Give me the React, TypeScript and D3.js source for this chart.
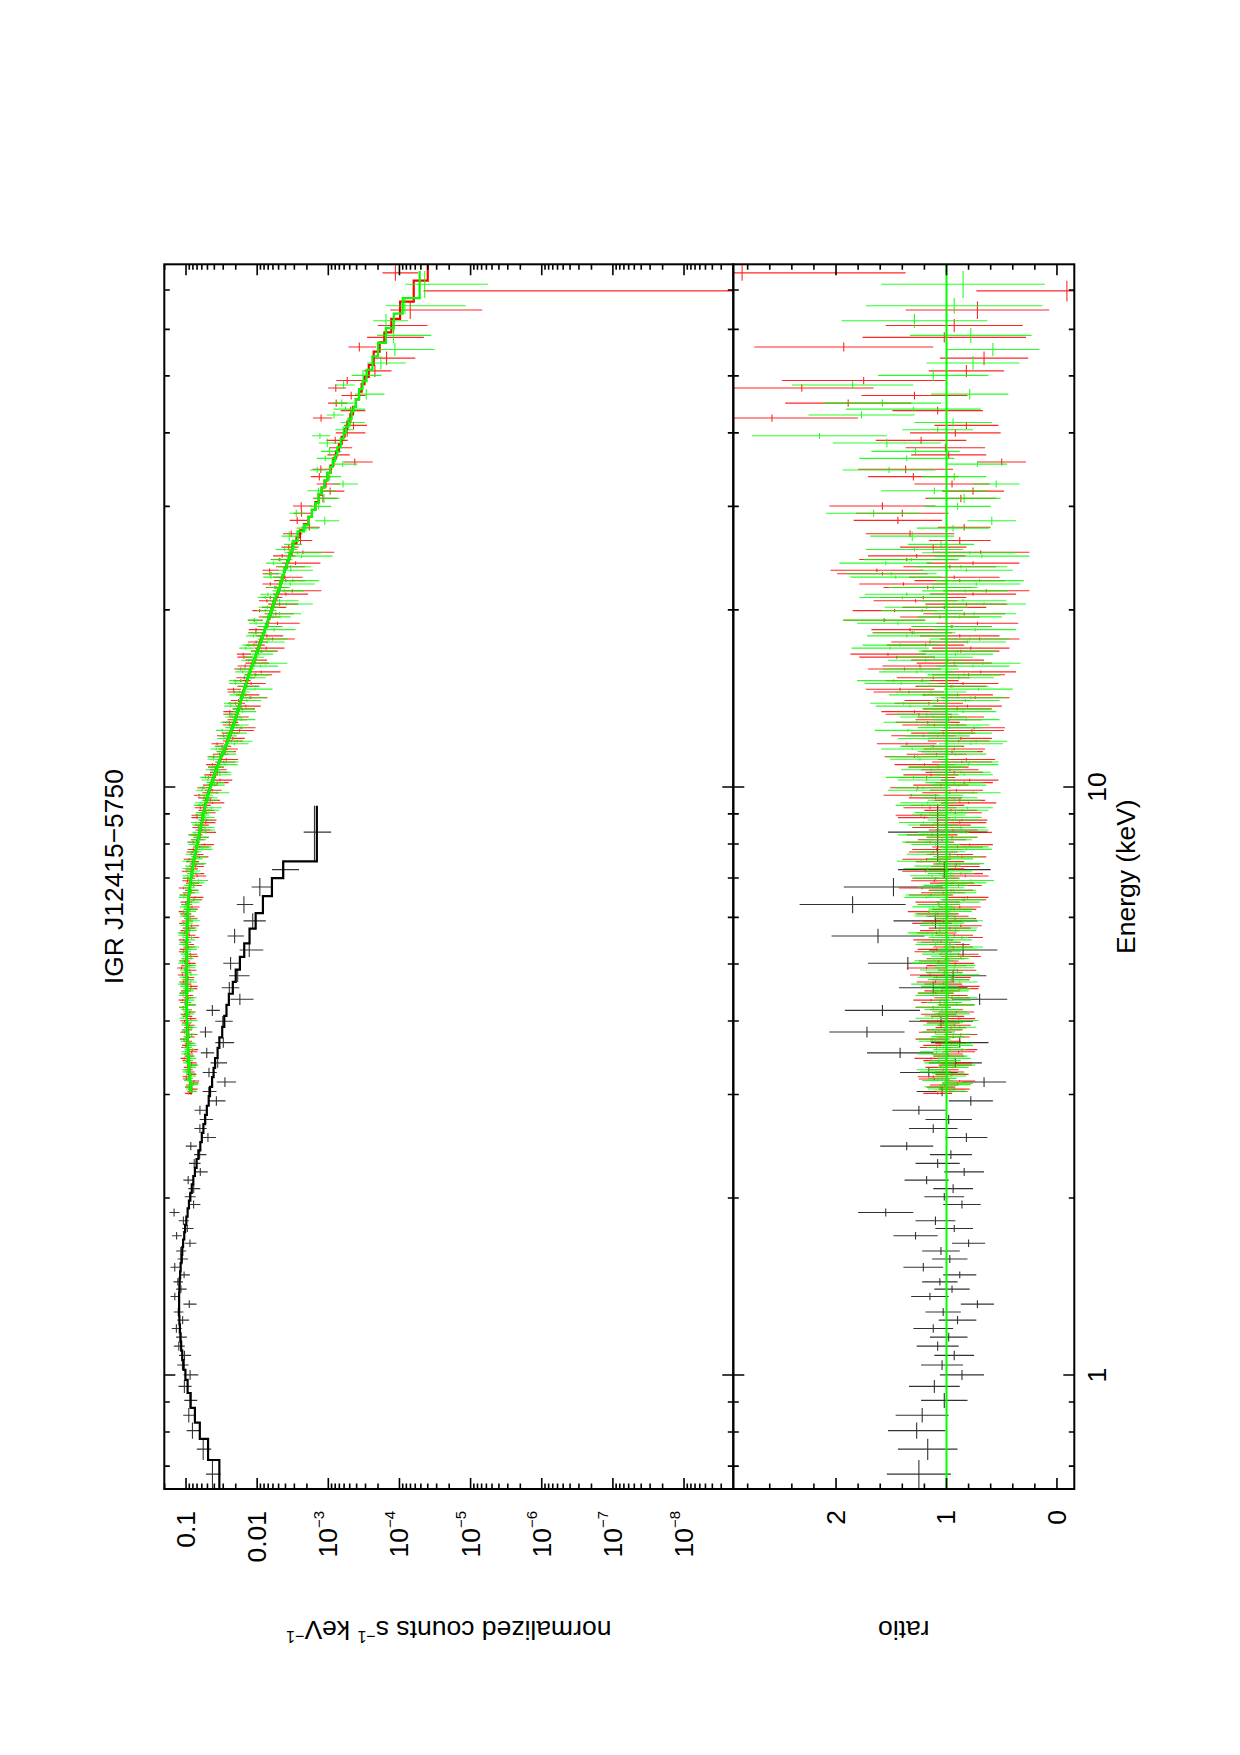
import React from 'react';
import * as d3 from 'd3';

// ---- soft X-ray spectrum (black): bin edges in keV, folded model, data/model ratio and its error
const blackEdges = [
  0.64, 0.717, 0.779, 0.83, 0.879, 0.932, 0.981, 1.02, 1.06, 1.1,
  1.14, 1.18, 1.22, 1.26, 1.3, 1.34, 1.38, 1.42, 1.46, 1.5,
  1.55, 1.6, 1.65, 1.7, 1.75, 1.8, 1.86, 1.92, 1.98, 2.04,
  2.11, 2.18, 2.25, 2.33, 2.41, 2.49, 2.58, 2.67, 2.77, 2.87,
  2.98, 3.09, 3.21, 3.33, 3.46, 3.6, 3.75, 3.91, 4.08, 4.26,
  4.45, 4.66, 4.89, 5.14, 5.42, 5.74, 6.1, 6.52, 7.0, 7.47,
  9.29,
];
const blackModel = [
  0.034, 0.049, 0.064, 0.075, 0.086, 0.095, 0.102, 0.108, 0.113, 0.117,
  0.12, 0.122, 0.124, 0.125, 0.125, 0.125, 0.124, 0.123, 0.121, 0.119,
  0.116, 0.113, 0.11, 0.106, 0.103, 0.099, 0.095, 0.091, 0.087, 0.083,
  0.079, 0.075, 0.071, 0.067, 0.063, 0.06, 0.057, 0.054, 0.051, 0.048,
  0.046, 0.043, 0.041, 0.039, 0.036, 0.034, 0.031, 0.029, 0.027, 0.025,
  0.022, 0.02, 0.0175, 0.0152, 0.0128, 0.0105, 0.0083, 0.0062, 0.0043, 0.00145,
];
const blackRatio = [
  1.25, 1.17, 1.27, 1.22, 1.02, 1.11, 0.86, 1.04, 0.93, 1.08,
  0.98, 1.12, 0.9, 1.03, 0.72, 1.15, 0.95, 1.06, 0.88, 1.21,
  0.97, 1.05, 0.8, 1.28, 0.93, 1.1, 1.55, 0.86, 1.02, 0.94,
  1.18, 0.84, 1.08, 0.96, 1.36, 0.82, 1.12, 0.98, 1.25, 0.78,
  1.04, 0.66, 1.16, 0.92, 1.42, 0.88, 1.72, 1.05, 1.58, 0.7,
  1.12, 0.94, 1.35, 0.85, 1.62, 1.1, 1.85, 1.48, 1.02, 1.08,
];
const blackErr = [
  0.29, 0.27, 0.26, 0.24, 0.21, 0.23, 0.2, 0.19, 0.18, 0.19,
  0.17, 0.18, 0.17, 0.16, 0.15, 0.17, 0.16, 0.16, 0.15, 0.18,
  0.16, 0.17, 0.15, 0.2, 0.17, 0.18, 0.25, 0.17, 0.18, 0.18,
  0.2, 0.18, 0.2, 0.19, 0.24, 0.19, 0.22, 0.21, 0.24, 0.2,
  0.23, 0.2, 0.26, 0.24, 0.3, 0.26, 0.34, 0.29, 0.34, 0.25,
  0.31, 0.3, 0.36, 0.31, 0.42, 0.38, 0.48, 0.45, 0.42, 0.45,
];

// ---- hard X-ray module A (red)
const redEdges = [
  3.0, 3.025, 3.05, 3.075, 3.1, 3.125, 3.15, 3.175, 3.2, 3.23,
  3.26, 3.29, 3.32, 3.35, 3.38, 3.41, 3.44, 3.47, 3.5, 3.53,
  3.56, 3.59, 3.62, 3.65, 3.68, 3.71, 3.74, 3.775, 3.81, 3.845,
  3.88, 3.915, 3.95, 3.985, 4.02, 4.055, 4.09, 4.125, 4.16, 4.2,
  4.24, 4.28, 4.32, 4.36, 4.4, 4.44, 4.48, 4.52, 4.56, 4.6,
  4.64, 4.68, 4.72, 4.765, 4.81, 4.855, 4.9, 4.945, 4.99, 5.035,
  5.08, 5.125, 5.17, 5.22, 5.27, 5.32, 5.37, 5.42, 5.47, 5.52,
  5.57, 5.62, 5.67, 5.725, 5.78, 5.835, 5.89, 5.945, 6.0, 6.055,
  6.11, 6.165, 6.22, 6.28, 6.34, 6.4, 6.46, 6.52, 6.58, 6.64,
  6.7, 6.765, 6.83, 6.895, 6.96, 7.025, 7.09, 7.155, 7.22, 7.29,
  7.36, 7.43, 7.5, 7.57, 7.64, 7.715, 7.79, 7.865, 7.94, 8.015,
  8.09, 8.17, 8.25, 8.33, 8.41, 8.49, 8.57, 8.655, 8.74, 8.825,
  8.91, 8.995, 9.08, 9.17, 9.26, 9.35, 9.44, 9.535, 9.63, 9.725,
  9.82, 9.92, 10.02, 10.12, 10.22, 10.325, 10.43, 10.535, 10.64, 10.75,
  10.86, 10.97, 11.08, 11.195, 11.31, 11.425, 11.54, 11.66, 11.78, 11.905,
  12.03, 12.155, 12.28, 12.41, 12.54, 12.675, 12.81, 12.945, 13.08, 13.22,
  13.36, 13.505, 13.65, 13.8, 13.95, 14.105, 14.26, 14.42, 14.58, 14.745,
  14.91, 15.08, 15.25, 15.425, 15.6, 15.78, 15.96, 16.145, 16.33, 16.525,
  16.72, 16.92, 17.12, 17.325, 17.53, 17.745, 17.96, 18.18, 18.4, 18.63,
  18.86, 19.095, 19.33, 19.575, 19.82, 20.075, 20.33, 20.595, 20.86, 21.135,
  21.41, 21.695, 21.98, 22.28, 22.58, 22.89, 23.2, 23.525, 23.85, 24.19,
  24.53, 24.89, 25.25, 25.9, 26.6, 27.3, 28.0, 28.8, 29.6, 30.5,
  31.4, 32.3, 33.2, 34.2, 35.2, 36.2, 37.2, 38.3, 39.4, 40.6,
  41.8, 43.0, 44.3, 45.6, 47.0, 48.4, 49.8, 52.2, 55.0, 57.0,
  59.3, 62.5, 66.9, 72.6, 77.1,
];
const redModel = [
  0.0858, 0.0863, 0.0868, 0.0872, 0.0874, 0.0877, 0.0879, 0.0884, 0.0887, 0.0893,
  0.0897, 0.0903, 0.0907, 0.0913, 0.0917, 0.0923, 0.0928, 0.0932, 0.0933, 0.0937,
  0.0938, 0.0942, 0.0943, 0.0947, 0.0948, 0.0952, 0.0953, 0.0957, 0.0958, 0.0962,
  0.0963, 0.0967, 0.0969, 0.097, 0.097, 0.0972, 0.0973, 0.0974, 0.0975, 0.0976,
  0.0977, 0.0977, 0.0978, 0.0979, 0.098, 0.098, 0.098, 0.098, 0.098, 0.098,
  0.098, 0.098, 0.098, 0.098, 0.098, 0.098, 0.098, 0.098, 0.098, 0.098,
  0.098, 0.098, 0.0979, 0.0977, 0.0977, 0.0975, 0.0975, 0.0973, 0.0973, 0.097,
  0.097, 0.0966, 0.0965, 0.096, 0.0959, 0.0954, 0.0953, 0.0949, 0.0949, 0.0944,
  0.0942, 0.0937, 0.0937, 0.0932, 0.0931, 0.0923, 0.092, 0.0909, 0.0906, 0.0893,
  0.0888, 0.0876, 0.087, 0.0858, 0.0851, 0.0838, 0.0831, 0.0818, 0.0811, 0.0798,
  0.0791, 0.0778, 0.0769, 0.0756, 0.0746, 0.0733, 0.0724, 0.0711, 0.0701, 0.0688,
  0.0678, 0.0665, 0.0656, 0.0643, 0.0634, 0.0621, 0.0613, 0.0601, 0.0593, 0.0583,
  0.0574, 0.0564, 0.0556, 0.0546, 0.0537, 0.0527, 0.0517, 0.0506, 0.0496, 0.0484,
  0.0471, 0.0459, 0.0446, 0.0434, 0.0422, 0.041, 0.0399, 0.0387, 0.0378, 0.0366,
  0.0355, 0.0343, 0.0332, 0.032, 0.0309, 0.0297, 0.0287, 0.0277, 0.0269, 0.0261,
  0.0253, 0.0245, 0.0238, 0.023, 0.0224, 0.0217, 0.021, 0.0204, 0.0199, 0.0193,
  0.0188, 0.0182, 0.0178, 0.0174, 0.017, 0.0166, 0.0161, 0.0157, 0.0152, 0.0148,
  0.0143, 0.0139, 0.0135, 0.0131, 0.0127, 0.0123, 0.0119, 0.0115, 0.011, 0.0106,
  0.0103, 0.0099, 0.0096, 0.0093, 0.009, 0.0087, 0.0083, 0.008, 0.0078, 0.0075,
  0.0072, 0.007, 0.0067, 0.0065, 0.0063, 0.0061, 0.0059, 0.0057, 0.0054, 0.0052,
  0.005, 0.0048, 0.0047, 0.0045, 0.0044, 0.0042, 0.0041, 0.0039, 0.0038, 0.0036,
  0.0035, 0.0033,
  0.0032, 0.0028, 0.0025, 0.0022, 0.0019, 0.0017, 0.00152, 0.00137, 0.00124, 0.00113,
  0.00103, 0.00093, 0.00085, 0.00078, 0.00071, 0.00065, 0.00059, 0.00054, 0.00049, 0.00045,
  0.00041, 0.00037, 0.00034, 0.00031, 0.00027, 0.00023, 0.00019, 0.000162, 0.00013, 0.000098,
  0.000063, 0.00004,
];
const redRatio = [
  1.08, 0.97, 0.93, 1.05, 1.02, 0.9, 0.88, 1.11, 1.12, 0.95, 0.97, 1.03, 1.05, 0.92, 0.91, 1.07, 1.14, 0.98, 0.99, 0.89,
  0.86, 1.09, 1.06, 0.96, 1.01, 1.13, 0.94, 0.87, 1.1, 1.02, 0.96, 0.93, 1.03, 1.08, 0.89, 0.99, 1.07, 0.91, 1.0, 1.12,
  0.91, 1.06, 1.14, 0.95, 0.98, 1.1, 1.04, 0.88, 0.86, 1.03, 1.1, 0.96, 0.95, 1.15, 1.02, 0.9, 1.18, 1.0, 0.92, 1.07,
  1.01, 0.87, 0.89, 1.12, 1.09, 0.94, 0.97, 1.05, 1.12, 0.86, 0.93, 1.09, 1.06, 0.97, 0.87, 1.13, 1.03, 0.92, 0.99, 1.08,
  1.16, 0.93, 0.88, 1.07, 1.08, 0.84, 0.81, 1.14, 1.03, 0.96, 1.22, 0.89, 0.95, 1.11, 1.1, 0.83, 0.87, 1.19, 1.05, 0.92,
  0.91, 1.06, 1.18, 0.86, 0.97, 1.12, 1.09, 0.9, 0.79, 1.15, 1.04, 0.95, 1.13, 0.82, 0.94, 1.08, 1.01, 0.88, 0.86, 1.2,
  1.23, 0.92, 0.96, 1.15, 1.08, 0.8, 0.88, 1.1, 1.32, 0.97, 0.91, 1.26, 1.05, 0.84, 0.79, 1.18, 1.14, 0.93, 0.97, 1.07,
  1.2, 0.86, 0.82, 1.29, 1.09, 0.95, 0.93, 1.12, 1.36, 0.89, 0.87, 1.21, 1.03, 0.77, 0.75, 1.11, 1.17, 0.98, 0.96, 1.25,
  1.29, 0.9, 0.81, 1.16, 1.08, 0.74, 0.9, 1.34, 1.42, 0.96, 0.85, 1.22, 1.12, 0.8, 0.69, 1.38, 1.24, 0.93, 0.99, 1.45,
  1.53, 0.87, 0.78, 1.19, 1.15, 0.7, 0.88, 1.31, 1.33, 0.95, 0.72, 1.56, 1.06, 0.84, 1.47, 1.02, 0.82, 1.28, 1.21, 0.76,
  0.64, 1.17, 1.39, 0.88, 0.93, 1.58, 1.63, 0.97, 0.76, 1.36, 1.27, 0.69,
  1.12, 0.88, 1.33, 0.84, 1.44, 1.4, 1.58, 0.87, 0.76, 0.95,
  1.3, 1.37, 0.5, 0.98, 1.01, 1.23, 0.92, 0.82, 2.58, 1.08,
  1.89, 1.29, 2.31, 1.75, 0.82, 0.66, 1.93, 1.02, 0.93, 0.72,
  -0.09, 2.85,
];
const redErr = [
  0.13, 0.14, 0.14, 0.13, 0.13, 0.14, 0.14, 0.14, 0.14, 0.15, 0.13, 0.14, 0.14, 0.15, 0.14, 0.14, 0.15, 0.14, 0.14, 0.15,
  0.14, 0.15, 0.15, 0.14, 0.14, 0.15, 0.15, 0.15, 0.15, 0.16, 0.14, 0.15, 0.15, 0.16, 0.15, 0.15, 0.16, 0.16, 0.15, 0.16,
  0.16, 0.17, 0.16, 0.16, 0.17, 0.16, 0.16, 0.17, 0.16, 0.17, 0.17, 0.17, 0.17, 0.18, 0.16, 0.17, 0.18, 0.18, 0.17, 0.18,
  0.17, 0.18, 0.18, 0.17, 0.17, 0.18, 0.18, 0.18, 0.18, 0.19, 0.17, 0.18, 0.18, 0.19, 0.19, 0.18, 0.18, 0.19, 0.19, 0.19,
  0.19, 0.2, 0.19, 0.19, 0.2, 0.2, 0.19, 0.2, 0.2, 0.2, 0.21, 0.21, 0.2, 0.21, 0.21, 0.21, 0.2, 0.21, 0.21, 0.22,
  0.21, 0.22, 0.22, 0.22, 0.21, 0.22, 0.22, 0.23, 0.21, 0.22, 0.22, 0.23, 0.23, 0.23, 0.22, 0.23, 0.23, 0.24, 0.23, 0.24,
  0.23, 0.24, 0.24, 0.24, 0.24, 0.25, 0.23, 0.24, 0.25, 0.25, 0.24, 0.25, 0.25, 0.26, 0.26, 0.26, 0.25, 0.26, 0.26, 0.27,
  0.27, 0.27, 0.26, 0.27, 0.27, 0.28, 0.28, 0.28, 0.27, 0.28, 0.28, 0.29, 0.29, 0.29, 0.28, 0.29, 0.29, 0.3, 0.3, 0.3,
  0.3, 0.31, 0.31, 0.31, 0.3, 0.31, 0.32, 0.32, 0.31, 0.32, 0.32, 0.33, 0.33, 0.33, 0.32, 0.33, 0.34, 0.34, 0.33, 0.34,
  0.34, 0.35, 0.35, 0.35, 0.35, 0.36, 0.36, 0.36, 0.35, 0.36, 0.37, 0.37, 0.36, 0.37, 0.38, 0.38, 0.37, 0.38, 0.39, 0.39,
  0.39, 0.4, 0.4, 0.41, 0.41, 0.41, 0.42, 0.42, 0.42, 0.43, 0.44, 0.44,
  0.3, 0.28, 0.4, 0.24, 0.4, 0.42, 0.48, 0.32, 0.28, 0.34,
  0.41, 0.43, 0.22, 0.34, 0.36, 0.41, 0.41, 0.29, 0.78, 0.41,
  0.57, 0.48, 0.65, 0.74, 0.34, 0.4, 0.81, 0.74, 0.62, 0.65,
  0.82, 1.48,
];

// ---- hard X-ray module B (green)
const greenEdges = [
  3.02, 3.05, 3.08, 3.105, 3.13, 3.155, 3.18, 3.21, 3.24, 3.265,
  3.29, 3.32, 3.35, 3.38, 3.41, 3.44, 3.47, 3.5, 3.53, 3.56,
  3.59, 3.62, 3.65, 3.68, 3.71, 3.745, 3.78, 3.815, 3.85, 3.885,
  3.92, 3.955, 3.99, 4.025, 4.06, 4.095, 4.13, 4.165, 4.2, 4.24,
  4.28, 4.32, 4.36, 4.4, 4.44, 4.48, 4.52, 4.56, 4.6, 4.64,
  4.68, 4.725, 4.77, 4.815, 4.86, 4.905, 4.95, 4.995, 5.04, 5.085,
  5.13, 5.175, 5.22, 5.27, 5.32, 5.37, 5.42, 5.47, 5.52, 5.57,
  5.62, 5.675, 5.73, 5.785, 5.84, 5.895, 5.95, 6.005, 6.06, 6.115,
  6.17, 6.225, 6.28, 6.34, 6.4, 6.46, 6.52, 6.58, 6.64, 6.705,
  6.77, 6.835, 6.9, 6.965, 7.03, 7.095, 7.16, 7.23, 7.3, 7.37,
  7.44, 7.51, 7.58, 7.65, 7.72, 7.795, 7.87, 7.945, 8.02, 8.095,
  8.17, 8.25, 8.33, 8.41, 8.49, 8.575, 8.66, 8.745, 8.83, 8.915,
  9.0, 9.085, 9.17, 9.26, 9.35, 9.445, 9.54, 9.635, 9.73, 9.825,
  9.92, 10.02, 10.12, 10.225, 10.33, 10.435, 10.54, 10.645, 10.75, 10.86,
  10.97, 11.085, 11.2, 11.315, 11.43, 11.545, 11.66, 11.78, 11.9, 12.025,
  12.15, 12.28, 12.41, 12.545, 12.68, 12.815, 12.95, 13.085, 13.22, 13.36,
  13.5, 13.65, 13.8, 13.95, 14.1, 14.26, 14.42, 14.585, 14.75, 14.915,
  15.08, 15.25, 15.42, 15.6, 15.78, 15.96, 16.14, 16.33, 16.52, 16.72,
  16.92, 17.12, 17.32, 17.53, 17.74, 17.96, 18.18, 18.405, 18.63, 18.865,
  19.1, 19.34, 19.58, 19.83, 20.08, 20.34, 20.6, 20.865, 21.13, 21.41,
  21.69, 21.985, 22.28, 22.585, 22.89, 23.205, 23.52, 23.855, 24.19, 24.52,
  24.85, 25.175, 25.5, 26.2, 27.2, 27.9, 28.8, 29.6, 30.4, 31.5,
  32.3, 33.2, 34.2, 35.0, 35.8, 36.6, 37.8, 39.1, 40.0, 41.0,
  42.3, 43.5, 44.3, 45.6, 47.5, 49.0, 51.2, 54.0, 56.9, 60.3,
  63.8, 67.8, 75.4,
];
const greenModel = [
  0.0858, 0.0863, 0.0868, 0.0872, 0.0874, 0.0877, 0.0879, 0.0884, 0.0887, 0.0893,
  0.0897, 0.0903, 0.0907, 0.0913, 0.0917, 0.0923, 0.0928, 0.0932, 0.0933, 0.0937,
  0.0938, 0.0942, 0.0943, 0.0947, 0.0948, 0.0952, 0.0953, 0.0957, 0.0958, 0.0962,
  0.0963, 0.0967, 0.0969, 0.097, 0.097, 0.0972, 0.0973, 0.0974, 0.0975, 0.0976,
  0.0977, 0.0977, 0.0978, 0.0979, 0.098, 0.098, 0.098, 0.098, 0.098, 0.098,
  0.098, 0.098, 0.098, 0.098, 0.098, 0.098, 0.098, 0.098, 0.098, 0.098,
  0.098, 0.098, 0.0978, 0.0977, 0.0976, 0.0975, 0.0974, 0.0972, 0.0971, 0.0969,
  0.0968, 0.0964, 0.0962, 0.0958, 0.0956, 0.0952, 0.095, 0.0946, 0.0945, 0.094,
  0.0938, 0.0933, 0.0932, 0.0927, 0.0924, 0.0916, 0.0911, 0.0901, 0.0896, 0.0884,
  0.0878, 0.0866, 0.0859, 0.0847, 0.0839, 0.0827, 0.0819, 0.0806, 0.0799, 0.0786,
  0.0778, 0.0766, 0.0756, 0.0744, 0.0733, 0.0721, 0.0711, 0.0699, 0.0688, 0.0676,
  0.0665, 0.0653, 0.0643, 0.0632, 0.0621, 0.061, 0.06, 0.059, 0.0581, 0.0571,
  0.0562, 0.0553, 0.0544, 0.0534, 0.0525, 0.0515, 0.0504, 0.0493, 0.0482, 0.047,
  0.0457, 0.0445, 0.0432, 0.042, 0.0408, 0.0397, 0.0386, 0.0375, 0.0364, 0.0353,
  0.0342, 0.0331, 0.0319, 0.0308, 0.0297, 0.0287, 0.0277, 0.0268, 0.026, 0.0253,
  0.0245, 0.0237, 0.023, 0.0223, 0.0216, 0.021, 0.0204, 0.0198, 0.0193, 0.0188,
  0.0182, 0.0177, 0.0173, 0.0169, 0.0165, 0.0161, 0.0156, 0.0152, 0.0147, 0.0143,
  0.0138, 0.0134, 0.013, 0.0126, 0.0122, 0.0118, 0.0114, 0.011, 0.0106, 0.0103,
  0.0099, 0.0096, 0.0092, 0.0089, 0.0086, 0.0083, 0.008, 0.0078, 0.0075, 0.0072,
  0.007, 0.0068, 0.0065, 0.0063, 0.0061, 0.0059, 0.0057, 0.0055, 0.0052, 0.005,
  0.0048, 0.0047, 0.0045, 0.0044, 0.0042, 0.0041, 0.0039, 0.0038, 0.0036, 0.0035,
  0.0034, 0.0032,
  0.0031, 0.0027, 0.0022, 0.0019, 0.0017, 0.00152, 0.00137, 0.00124, 0.00113, 0.00103,
  0.00094, 0.00087, 0.00081, 0.00075, 0.00067, 0.00061, 0.00057, 0.00052, 0.00047, 0.00044,
  0.00041, 0.00037, 0.00033, 0.00029, 0.00024, 0.0002, 0.000155, 0.00012, 0.00009, 0.000052,
];
const greenRatio = [
  0.95, 1.04, 1.07, 0.92, 0.9, 1.08, 1.04, 0.96, 0.98, 1.1, 1.13, 0.94, 0.89, 1.06, 1.01, 0.93, 0.96, 1.12, 1.09, 0.97,
  1.03, 0.9, 0.91, 1.1, 1.11, 0.99, 0.94, 1.07, 1.0, 0.88, 1.06, 1.01, 0.87, 1.13, 1.05, 0.95, 0.97, 1.04, 1.12, 0.91,
  1.02, 0.94, 0.89, 1.12, 1.09, 0.97, 0.95, 1.06, 1.15, 0.88, 0.99, 1.09, 0.87, 1.02, 1.07, 0.93, 0.92, 1.14, 1.11, 0.98,
  0.96, 1.05, 1.04, 0.9, 0.85, 1.1, 1.08, 0.95, 0.98, 1.13, 1.17, 0.92, 0.91, 1.06, 1.03, 0.86, 0.93, 1.1, 1.1, 0.97,
  0.96, 1.12, 1.07, 0.9, 0.86, 1.18, 1.16, 0.93, 0.94, 1.05, 1.01, 0.85, 0.78, 1.09, 1.13, 0.96, 0.99, 1.17, 1.08, 0.88,
  1.23, 0.97, 0.9, 1.14, 1.05, 0.82, 0.84, 1.1, 1.17, 0.99, 0.95, 1.21, 1.03, 0.86, 0.87, 1.12, 1.21, 0.94, 0.92, 1.07,
  1.05, 0.86, 0.81, 1.22, 1.17, 0.93, 0.97, 1.1, 0.76, 1.27, 1.21, 0.89, 0.93, 1.18, 1.3, 0.84, 0.87, 1.14, 1.09, 0.8,
  0.79, 1.24, 1.26, 0.92, 0.99, 1.31, 1.14, 0.78, 0.73, 1.16, 1.08, 0.88, 1.35, 0.97, 0.9, 1.27, 0.82, 1.12, 1.18, 0.85,
  0.91, 1.33, 1.39, 0.83, 0.78, 1.2, 1.14, 0.71, 0.94, 1.41, 1.48, 0.89, 0.84, 1.27, 1.23, 0.76, 0.67, 1.19, 1.11, 0.92,
  0.9, 1.51, 1.42, 0.81, 0.79, 1.36, 1.29, 0.74, 0.96, 1.44, 1.57, 0.88, 0.75, 1.22, 1.18, 0.66, 0.85, 1.4, 1.36, 0.83,
  1.12, 0.73, 0.7, 1.46, 1.5, 0.82, 0.87, 1.55, 1.32, 0.68, 0.79, 1.29,
  1.05, 1.31, 0.94, 0.59, 1.66, 0.9, 0.84, 1.11, 0.55, 0.93,
  1.52, 0.72, 1.36, 1.28, 1.54, 2.15, 1.08, 0.94, 1.77, 1.3,
  1.58, 0.79, 1.85, 1.12, 0.76, 0.58, 0.78, 1.29, 0.93, 0.85,
];
const greenErr = [
  0.14, 0.13, 0.13, 0.14, 0.14, 0.14, 0.13, 0.14, 0.15, 0.14, 0.14, 0.14, 0.15, 0.14, 0.14, 0.15, 0.15, 0.14, 0.15, 0.15,
  0.15, 0.14, 0.14, 0.15, 0.15, 0.15, 0.16, 0.15, 0.15, 0.15, 0.15, 0.16, 0.16, 0.15, 0.15, 0.16, 0.16, 0.16, 0.16, 0.17,
  0.16, 0.16, 0.17, 0.16, 0.16, 0.17, 0.17, 0.17, 0.17, 0.16, 0.18, 0.17, 0.17, 0.17, 0.17, 0.18, 0.18, 0.17, 0.18, 0.18,
  0.18, 0.17, 0.17, 0.18, 0.18, 0.18, 0.19, 0.18, 0.18, 0.19, 0.18, 0.19, 0.19, 0.18, 0.19, 0.19, 0.18, 0.19, 0.19, 0.2,
  0.2, 0.19, 0.19, 0.2, 0.2, 0.2, 0.21, 0.2, 0.21, 0.21, 0.2, 0.21, 0.21, 0.21, 0.2, 0.21, 0.22, 0.22, 0.21, 0.22,
  0.22, 0.21, 0.22, 0.22, 0.22, 0.23, 0.22, 0.22, 0.23, 0.22, 0.23, 0.23, 0.23, 0.24, 0.23, 0.23, 0.22, 0.23, 0.24, 0.24,
  0.24, 0.24, 0.23, 0.24, 0.25, 0.24, 0.25, 0.25, 0.25, 0.26, 0.25, 0.25, 0.26, 0.26, 0.25, 0.26, 0.27, 0.27, 0.26, 0.27,
  0.26, 0.27, 0.28, 0.28, 0.27, 0.28, 0.28, 0.29, 0.28, 0.28, 0.29, 0.29, 0.3, 0.29, 0.29, 0.3, 0.3, 0.3, 0.29, 0.3,
  0.31, 0.31, 0.3, 0.31, 0.32, 0.32, 0.32, 0.31, 0.32, 0.33, 0.33, 0.32, 0.33, 0.34, 0.34, 0.33, 0.34, 0.34, 0.35, 0.34,
  0.35, 0.35, 0.34, 0.35, 0.36, 0.36, 0.37, 0.37, 0.36, 0.37, 0.37, 0.38, 0.38, 0.37, 0.38, 0.38, 0.39, 0.39, 0.38, 0.39,
  0.4, 0.4, 0.4, 0.41, 0.41, 0.42, 0.42, 0.42, 0.43, 0.43, 0.43, 0.44,
  0.3, 0.38, 0.33, 0.22, 0.43, 0.3, 0.33, 0.48, 0.21, 0.29,
  0.42, 0.27, 0.43, 0.4, 0.49, 0.61, 0.32, 0.35, 0.48, 0.61,
  0.53, 0.35, 0.55, 0.5, 0.42, 0.42, 0.55, 0.66, 0.8, 0.74,
];

// ---- axis annotations
const energyLabels = [1, 10];
const countDecades = [-1, -2, -3, -4, -5, -6, -7, -8];
const ratioLabels = [0, 1, 2];

const W = 1240;
const H = 1755;
const FONT = "'Liberation Sans', Arial, Helvetica, sans-serif";

// The plot is laid out landscape (u along energy, v across) and turned a quarter turn on the page.
const U0 = 266;
const U1 = 1490.7;
const V0 = 164.3; // top of the counts panel
const VS = 733.3; // boundary between panels
const V1 = 1074.3; // bottom of the ratio panel

const xE = d3.scaleLog().domain([0.64, 77.4]).range([U0, U1]);
const yC = d3.scaleLog().domain([2.03e-9, 0.202]).range([VS, V0]);
const yR = d3.scaleLinear().domain([-0.157, 2.93]).range([V1, VS]);

type Bin = { lo: number; hi: number; mid: number; m: number; r: number; e: number };

function makeBins(edges: number[], model: number[], ratio: number[], err: number[]): Bin[] {
  const n = Math.min(edges.length - 1, model.length, ratio.length, err.length);
  const out: Bin[] = [];
  for (let i = 0; i < n; i++) {
    const lo = edges[i];
    const hi = edges[i + 1];
    out.push({ lo, hi, mid: (lo + hi) / 2, m: model[i], r: ratio[i], e: err[i] });
  }
  return out;
}

const countY = (v: number) => (v > 0 ? yC(v) : VS + 500);

// error crosses: energy bar across the bin, vertical bar for the error
function crossPath(bins: Bin[], pick: (b: Bin) => [number, number, number], y: (v: number) => number) {
  let d = '';
  for (const b of bins) {
    const [val, lo, hi] = pick(b);
    const u = xE(b.mid);
    const yv = y(val);
    d += `M${xE(b.lo).toFixed(2)},${yv.toFixed(2)}H${xE(b.hi).toFixed(2)}`;
    d += `M${u.toFixed(2)},${y(lo).toFixed(2)}V${y(hi).toFixed(2)}`;
  }
  return d;
}

function stepPath(bins: Bin[]) {
  const pts: [number, number][] = [];
  bins.forEach((b) => {
    pts.push([xE(b.lo), countY(b.m)], [xE(b.hi), countY(b.m)]);
  });
  return d3.line()(pts) || '';
}

const isDecade = (t: number) => Math.abs(Math.log10(t) - Math.round(Math.log10(t))) < 1e-6;

export default function App() {
  const sets = [
    { key: 'black', color: '#000000', bins: makeBins(blackEdges, blackModel, blackRatio, blackErr) },
    { key: 'red', color: '#ff0000', bins: makeBins(redEdges, redModel, redRatio, redErr) },
    { key: 'green', color: '#00ff00', bins: makeBins(greenEdges, greenModel, greenRatio, greenErr) },
  ];

  // energy ticks on the top, the panel boundary and the bottom
  let eTicks = '';
  for (const t of xE.ticks()) {
    const u = xE(t);
    const L = isDecade(t) ? 11 : 5.5;
    eTicks += `M${u},${V0}v${L}M${u},${VS - L}v${2 * L}M${u},${V1}v${-L}`;
  }
  let cTicks = '';
  for (const t of yC.ticks()) {
    const v = yC(t);
    if (v < V0 || v > VS) continue;
    const L = isDecade(t) ? 11 : 5.5;
    cTicks += `M${U0},${v}h${L}M${U1},${v}h${-L}`;
  }
  let rTicks = '';
  for (const t of yR.ticks(15)) {
    const v = yR(t);
    const L = Math.abs(t - Math.round(t)) < 1e-6 ? 11 : 5.5;
    rTicks += `M${U0},${v}h${L}M${U1},${v}h${-L}`;
  }

  const uMid = (U0 + U1) / 2;

  return (
    <svg
      width={W}
      height={H}
      style={{ position: 'absolute', left: 0, top: 0, background: '#ffffff' }}
      fontFamily={FONT}
    >
      <rect width={W} height={H} fill="#ffffff" />
      <defs>
        <clipPath id="clip-counts">
          <rect x={U0} y={V0} width={U1 - U0} height={VS - V0} />
        </clipPath>
        <clipPath id="clip-ratio">
          <rect x={U0} y={VS} width={U1 - U0} height={V1 - VS} />
        </clipPath>
      </defs>
      <g transform={`translate(0,${H}) rotate(-90)`}>
        {/* upper panel: folded spectra */}
        <g clipPath="url(#clip-counts)" fill="none">
          {sets.map((s) => (
            <g key={s.key}>
              <path
                d={crossPath(s.bins, (b) => [b.m * b.r, b.m * (b.r - b.e), b.m * (b.r + b.e)], countY)}
                stroke={s.color}
                strokeWidth={s.key === 'black' ? 1.1 : 1.1}
                strokeOpacity={s.key === 'black' ? 0.8 : 0.85}
              />
              <path d={stepPath(s.bins)} stroke={s.color} strokeWidth={2.2} strokeLinejoin="miter" />
            </g>
          ))}
        </g>

        {/* lower panel: data / model */}
        <g clipPath="url(#clip-ratio)" fill="none">
          {sets.map((s) => (
            <path
              key={s.key}
              d={crossPath(s.bins, (b) => [b.r, b.r - b.e, b.r + b.e], (v) => yR(v))}
              stroke={s.color}
              strokeWidth={1.1}
              strokeOpacity={s.key === 'black' ? 0.8 : 0.85}
            />
          ))}
          <path d={`M${U0},${yR(1)}H${U1}`} stroke="#00ff00" strokeWidth={2} />
        </g>

        {/* frames and ticks */}
        <g fill="none" stroke="#000000">
          <rect x={U0} y={V0} width={U1 - U0} height={VS - V0} strokeWidth={2} />
          <rect x={U0} y={VS} width={U1 - U0} height={V1 - VS} strokeWidth={2} />
          <path d={eTicks + cTicks + rTicks} strokeWidth={1.6} />
        </g>

        {/* labels */}
        <g fill="#000000" fontSize={26.5}>
          <text x={uMid} y={122.7} textAnchor="middle" fontSize={26.4}>
            IGR J12415−5750
          </text>
          {energyLabels.map((e) => (
            <text key={e} x={xE(e)} y={1106} textAnchor="middle">
              {e}
            </text>
          ))}
          <text x={uMid} y={1135} textAnchor="middle">
            Energy (keV)
          </text>
          {countDecades.map((d) => (
            <text key={d} x={244} y={yC(Math.pow(10, d)) + 9} textAnchor="end">
              {d === -1 ? '0.1' : d === -2 ? '0.01' : '10'}
              {d < -2 ? (
                <tspan dy={-13.4} fontSize={15}>
                  {`−${-d}`}
                </tspan>
              ) : null}
            </text>
          ))}
          {ratioLabels.map((r) => (
            <text key={r} x={245} y={yR(r) + 9} textAnchor="end">
              {r}
            </text>
          ))}
          <text transform={`translate(134,${(V0 + VS) / 2}) rotate(-90)`} textAnchor="middle">
            normalized counts s
            <tspan dy={-10} fontSize={16}>
              −1
            </tspan>
            <tspan dy={10}> keV</tspan>
            <tspan dy={-10} fontSize={16}>
              −1
            </tspan>
          </text>
          <text transform={`translate(134,${(VS + V1) / 2}) rotate(-90)`} textAnchor="middle">
            ratio
          </text>
        </g>
      </g>
    </svg>
  );
}
